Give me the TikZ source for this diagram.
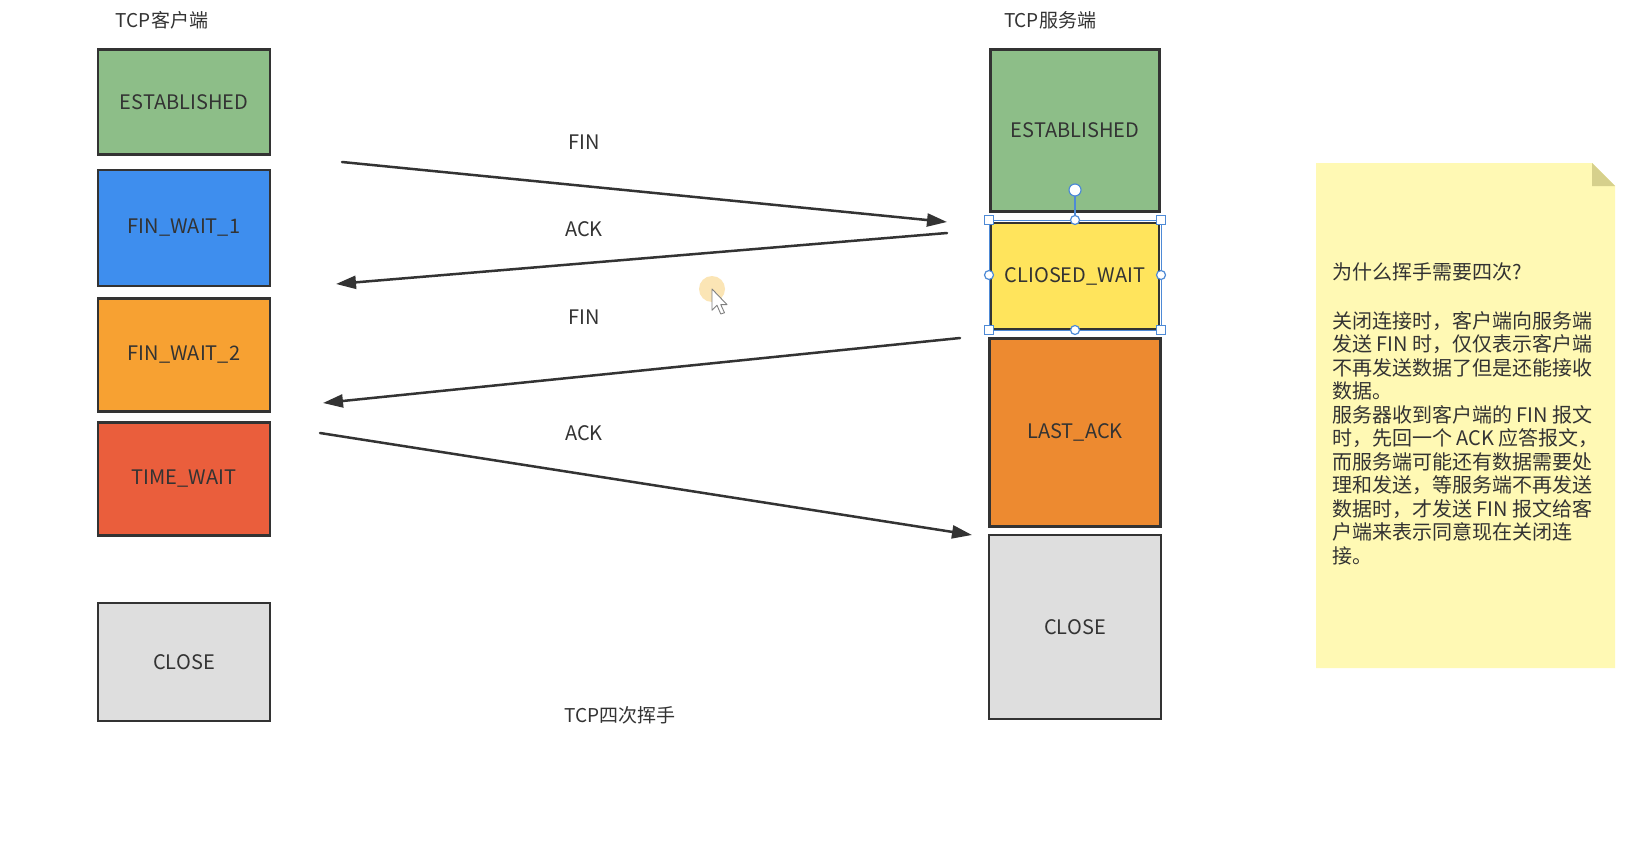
\documentclass[tikz,border=0pt]{standalone}
\usepackage{fontspec}
\setmainfont{Noto Sans CJK SC}
\usetikzlibrary{arrows.meta}

\definecolor{ink}{HTML}{333333}
\definecolor{estgreen}{RGB}{141,190,136}
\definecolor{waitblue}{RGB}{62,142,238}
\definecolor{waitorange}{RGB}{247,161,50}
\definecolor{timered}{RGB}{234,94,60}
\definecolor{closegray}{RGB}{222,222,222}
\definecolor{closeyellow}{RGB}{255,228,92}
\definecolor{lastorange}{RGB}{237,138,48}
\definecolor{notefill}{RGB}{255,249,180}
\definecolor{notefold}{RGB}{214,208,140}
\definecolor{selblue}{RGB}{78,138,214}
\definecolor{hilite}{RGB}{250,218,150}

\tikzset{
  statebox/.style={draw=ink, line width=2.5pt, inner sep=0pt,
    font=\fontsize{20}{24}\selectfont, text=ink},
  title/.style={font=\fontsize{19}{23}\selectfont, text=ink},
  msglabel/.style={font=\fontsize{20}{24}\selectfont, text=ink},
  msg/.style={draw=ink, line width=2.5pt, line cap=round,
    -{Triangle[length=20pt,width=13pt]}},
  noteline/.style={anchor=base west, inner sep=0pt,
    font=\fontsize{20}{23.5}\selectfont, text=ink},
  handle/.style={draw=selblue, fill=white, line width=1.2pt},
}

\begin{document}
\begin{tikzpicture}[x=1pt, y=-1pt]
\useasboundingbox[fill=white] (0,0) rectangle (1629,848);

% column titles
\node[title] (tcli) at (162,20) {TCP客户端};
\node[title] (tsrv) at (1050,20) {TCP服务端};

% client states
\node[statebox, fill=estgreen,   minimum width=172pt, minimum height=105pt] (cEst)  at (184,102) {ESTABLISHED};
\node[statebox, fill=waitblue,   minimum width=172pt, minimum height=116pt] (cFw1)  at (184,228) {FIN\_WAIT\_1};
\node[statebox, fill=waitorange, minimum width=172pt, minimum height=113pt] (cFw2)  at (184,355) {FIN\_WAIT\_2};
\node[statebox, fill=timered,    minimum width=172pt, minimum height=113pt] (cTw)   at (184,479) {TIME\_WAIT};
\node[statebox, fill=closegray,  minimum width=172pt, minimum height=118pt] (cCl)   at (184,662) {CLOSE};

% server states
\node[statebox, fill=estgreen,    minimum width=169pt, minimum height=162pt] (sEst) at (1075,130.5) {ESTABLISHED};
\node[statebox, fill=closeyellow, minimum width=168pt, minimum height=106pt] (sCw)  at (1075,276) {CLIOSED\_WAIT};
\node[statebox, fill=lastorange,  minimum width=171pt, minimum height=188pt] (sLa)  at (1075,432.5) {LAST\_ACK};
\node[statebox, fill=closegray,   minimum width=172pt, minimum height=184pt] (sCl)  at (1075,627) {CLOSE};

% selection frame and handles around the close-wait box
\draw[selblue, line width=1pt] (989,220) rectangle (1161,330);
\coordinate (rot) at (1075,190);
\draw[selblue, line width=1.5pt] (rot) -- (1075,220);
\draw[handle] (rot) circle (6pt);
\foreach \x/\y in {989/220,1161/220,989/330,1161/330}
  \draw[handle] (\x-4.5,\y-4.5) rectangle (\x+4.5,\y+4.5);
\foreach \x/\y in {1075/220,1075/330,989/275,1161/275}
  \draw[handle] (\x,\y) circle (4.5pt);

% message end points
\coordinate (m1a) at (342,162);   \coordinate (m1b) at (947,222);
\coordinate (m2a) at (947,233);   \coordinate (m2b) at (336,284);
\coordinate (m3a) at (960,338);   \coordinate (m3b) at (323,403);
\coordinate (m4a) at (320,433);   \coordinate (m4b) at (972,535);

\draw[msg] (m1a) -- (m1b);
\draw[msg] (m2a) -- (m2b);
\draw[msg] (m3a) -- (m3b);
\draw[msg] (m4a) -- (m4b);

\node[msglabel] (l1) at (584,142) {FIN};
\node[msglabel] (l2) at (584,229) {ACK};
\node[msglabel] (l3) at (584,317) {FIN};
\node[msglabel] (l4) at (584,433) {ACK};

% caption
\node[title] (cap) at (620,715) {TCP四次挥手};

% pointer with click highlight
\fill[hilite, opacity=0.7] (712,289) circle (13pt);
\begin{scope}[shift={(712,289)}, scale=1.25]
  \draw[fill=white, draw=gray, line width=0.9pt, line join=round]
    (0,0) -- (0,17) -- (4,13) -- (7,20) -- (10,19) -- (7,12.5) -- (12,12.5) -- cycle;
\end{scope}

% sticky note
\fill[notefill] (1316,163) -- (1592,163) -- (1615,186) -- (1615,668) -- (1316,668) -- cycle;
\fill[notefold] (1592,163) -- (1592,186) -- (1615,186) -- cycle;

\node[noteline] (q) at (1332,279) {为什么挥手需要四次?};
\foreach \t [count=\k from 0] in {
  关闭连接时，客户端向服务端,
  发送 FIN 时，仅仅表示客户端,
  不再发送数据了但是还能接收,
  数据。,
  服务器收到客户端的 FIN 报文,
  时，先回一个 ACK 应答报文，,
  而服务端可能还有数据需要处,
  理和发送，等服务端不再发送,
  数据时，才发送 FIN 报文给客,
  户端来表示同意现在关闭连,
  接。}
  \node[noteline] (p\k) at (1332,{328+23.5*\k}) {\t};

\end{tikzpicture}
\end{document}
